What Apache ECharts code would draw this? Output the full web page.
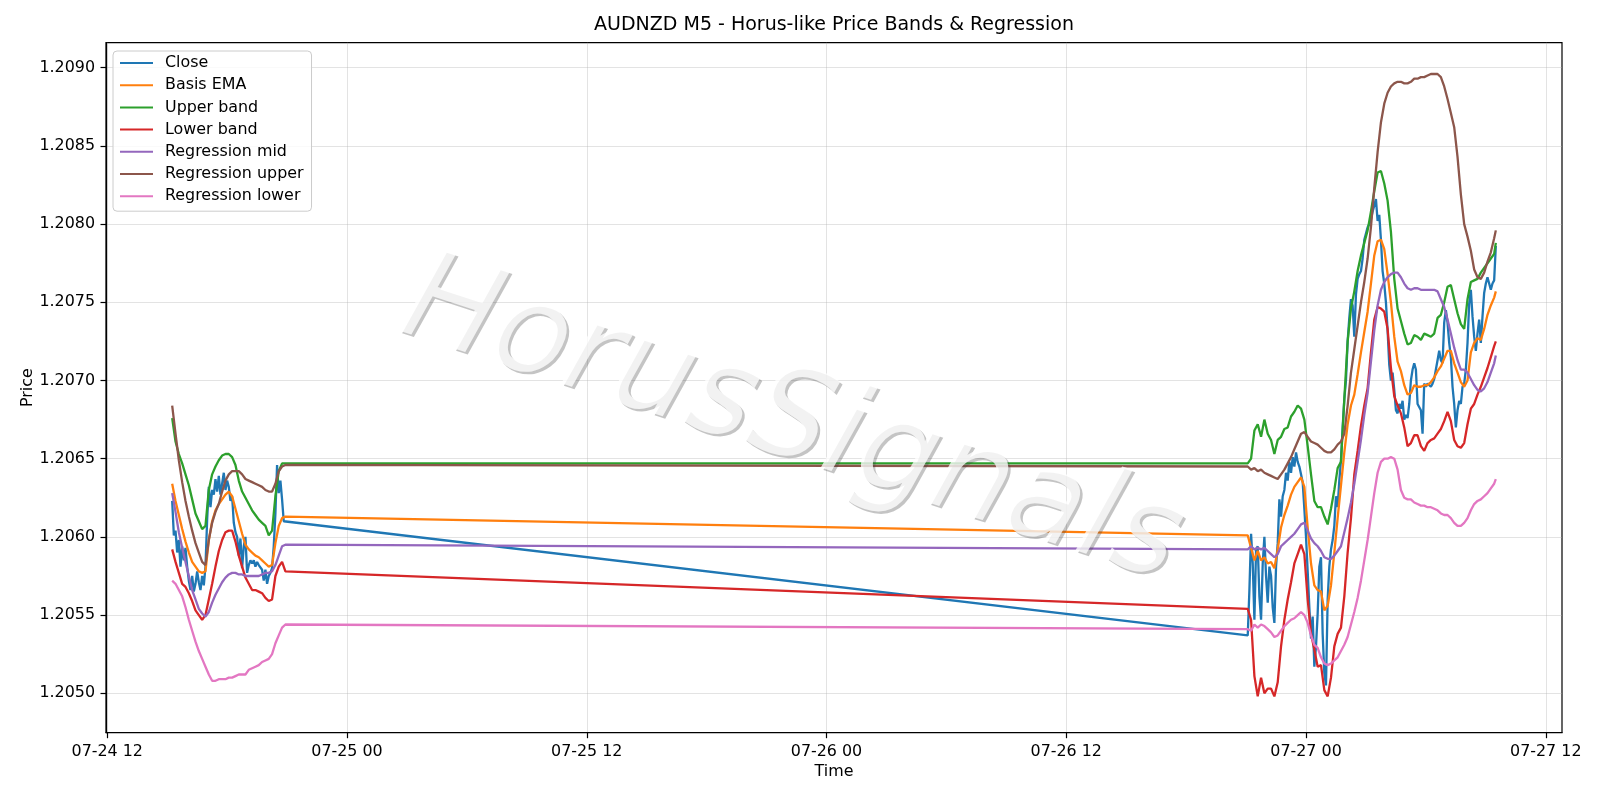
<!DOCTYPE html>
<html><head><meta charset="utf-8">
<script src="https://cdn.jsdelivr.net/npm/echarts@6/dist/echarts.min.js"></script>
<style>html,body{margin:0;padding:0;background:#fff}#c{width:1600px;height:800px}</style>
</head><body><div id="c"></div>
<script>
// ---------- data ----------
const seriesNames = ['Close','Basis EMA','Upper band','Lower band','Regression mid','Regression upper','Regression lower'];
const seriesColors = ['#1f77b4','#ff7f0e','#2ca02c','#d62728','#9467bd','#8c564b','#e377c2'];
const xTickLabels = ['07-24 12','07-25 00','07-25 12','07-26 00','07-26 12','07-27 00','07-27 12'];
const yTickValues = [1.2050,1.2055,1.2060,1.2065,1.2070,1.2075,1.2080,1.2085,1.2090];
const chartYear = 2020;
const friStart = '2020-07-24 15:15';   // Friday session, M5 bars
const sunStart = '2020-07-26 21:05';   // Sunday open, M5 bars

// Close, every 5 minutes
const friClose = [1.20623,1.20601,1.20604,1.20590,1.20598,1.20581,1.20594,1.20585,1.20593,1.20581,
 1.20572,1.20566,1.20575,1.20565,1.20570,1.20578,1.20571,1.20566,1.20575,1.20569,
 1.20581,1.20611,1.20632,1.20619,1.20630,1.20627,1.20637,1.20629,1.20639,1.20627,
 1.20634,1.20641,1.20630,1.20636,1.20632,1.20623,1.20626,1.20609,1.20603,1.20600,
 1.20588,1.20599,1.20580,1.20594,1.20600,1.20577,1.20582,1.20585,1.20583,1.20585,
 1.20581,1.20584,1.20582,1.20581,1.20579,1.20572,1.20579,1.20570,1.20575,1.20577,
 1.20580,1.20594,1.20615,1.20646,1.20628,1.20636,1.20624,1.20610,1.20609];
const sunClose = [1.20537,1.20566,1.20602,1.20583,1.20547,1.20592,1.20594,1.20562,1.20547,1.20583,
 1.20600,1.20575,1.20558,1.20581,1.20575,1.20555,1.20545,1.20581,1.20596,1.20624,
 1.20613,1.20626,1.20630,1.20641,1.20636,1.20648,1.20641,1.20651,1.20645,1.20654,
 1.20648,1.20645,1.20640,1.20635,1.20618,1.20600,1.20578,1.20555,1.20535,1.20549,
 1.20517,1.20530,1.20551,1.20581,1.20587,1.20538,1.20513,1.20505,1.20560,1.20581,
 1.20592,1.20598,1.20607,1.20626,1.20619,1.20636,1.20649,1.20670,1.20688,1.20700,
 1.20725,1.20740,1.20752,1.20748,1.20728,1.20755,1.20765,1.20768,1.20770,1.20778,
 1.20790,1.20794,1.20798,1.20800,1.20803,1.20808,1.20812,1.20816,1.20802,1.20806,
 1.20790,1.20770,1.20762,1.20750,1.20732,1.20710,1.20700,1.20705,1.20694,1.20681,
 1.20679,1.20685,1.20682,1.20687,1.20675,1.20678,1.20676,1.20685,1.20700,1.20707,
 1.20711,1.20707,1.20685,1.20686,1.20681,1.20666,1.20698,1.20696,1.20698,1.20697,
 1.20696,1.20698,1.20701,1.20707,1.20713,1.20719,1.20713,1.20711,1.20737,1.20745,
 1.20737,1.20724,1.20715,1.20696,1.20685,1.20670,1.20681,1.20687,1.20685,1.20696,
 1.20698,1.20707,1.20724,1.20749,1.20758,1.20741,1.20728,1.20719,1.20730,1.20739,
 1.20724,1.20741,1.20756,1.20762,1.20766,1.20762,1.20758,1.20762,1.20764,1.20786];

// Indicator lines, every 10 minutes (Sunday list ends with the 09:30 bar)
const friEma = [1.20634,1.20623,1.20614,1.20605,1.20597,1.20590,1.20584,1.20581,1.20578,1.20577,1.20578,1.20598,1.20610,1.20617,1.20621,1.20624,1.20627,1.20629,1.20626,1.20618,1.20610,1.20602,1.20595,1.20592,1.20590,1.20588,1.20587,1.20585,1.20583,1.20581,1.20582,1.20596,1.20607,1.20612,1.20613];
const friUpper = [1.20676,1.20661,1.20653,1.20647,1.20640,1.20633,1.20624,1.20615,1.20610,1.20605,1.20607,1.20630,1.20640,1.20645,1.20649,1.20652,1.20653,1.20653,1.20651,1.20646,1.20636,1.20629,1.20625,1.20621,1.20617,1.20614,1.20611,1.20609,1.20607,1.20601,1.20604,1.20626,1.20642,1.20647,1.20647];
const friLower = [1.20592,1.20584,1.20577,1.20570,1.20568,1.20564,1.20559,1.20553,1.20550,1.20547,1.20550,1.20560,1.20570,1.20581,1.20591,1.20598,1.20603,1.20604,1.20604,1.20597,1.20588,1.20581,1.20574,1.20570,1.20566,1.20566,1.20565,1.20564,1.20561,1.20559,1.20560,1.20575,1.20581,1.20584,1.20578];
const friRegMid = [1.20628,1.20616,1.20603,1.20593,1.20584,1.20575,1.20566,1.20560,1.20554,1.20551,1.20549,1.20552,1.20558,1.20563,1.20567,1.20571,1.20574,1.20576,1.20577,1.20577,1.20576,1.20576,1.20575,1.20575,1.20575,1.20575,1.20575,1.20576,1.20577,1.20577,1.20578,1.20582,1.20588,1.20594,1.20595];
const friRegUp = [1.20684,1.20666,1.20649,1.20635,1.20623,1.20613,1.20604,1.20596,1.20590,1.20584,1.20582,1.20598,1.20609,1.20616,1.20621,1.20629,1.20636,1.20640,1.20642,1.20642,1.20642,1.20640,1.20637,1.20636,1.20635,1.20634,1.20633,1.20632,1.20630,1.20629,1.20629,1.20634,1.20642,1.20645,1.20646];
const friRegLow = [1.20572,1.20570,1.20566,1.20562,1.20555,1.20547,1.20540,1.20533,1.20527,1.20522,1.20517,1.20512,1.20508,1.20508,1.20509,1.20509,1.20509,1.20510,1.20510,1.20511,1.20512,1.20512,1.20512,1.20515,1.20516,1.20517,1.20518,1.20520,1.20521,1.20522,1.20525,1.20532,1.20537,1.20542,1.20544];

const sunEma = [1.20601,1.20593,1.20585,1.20591,1.20585,1.20587,1.20583,1.20584,1.20580,1.20592,
 1.20606,1.20614,1.20620,1.20627,1.20632,1.20635,1.20638,1.20632,1.20606,1.20583,
 1.20569,1.20566,1.20565,1.20553,1.20556,1.20569,1.20590,1.20612,1.20633,1.20654,
 1.20672,1.20684,1.20691,1.20704,1.20718,1.20731,1.20744,1.20762,1.20780,1.20789,
 1.20790,1.20784,1.20768,1.20750,1.20728,1.20712,1.20706,1.20697,1.20691,1.20692,
 1.20697,1.20696,1.20696,1.20697,1.20697,1.20699,1.20702,1.20706,1.20709,1.20714,
 1.20719,1.20719,1.20711,1.20705,1.20699,1.20696,1.20700,1.20718,1.20724,1.20727,
 1.20726,1.20733,1.20742,1.20748,1.20753,1.20757];
const sunUpper = [1.20647,1.20650,1.20668,1.20672,1.20664,1.20675,1.20666,1.20662,1.20653,1.20662,
 1.20664,1.20669,1.20670,1.20677,1.20680,1.20684,1.20682,1.20675,1.20658,1.20640,
 1.20623,1.20619,1.20619,1.20613,1.20608,1.20618,1.20630,1.20644,1.20648,1.20688,
 1.20725,1.20746,1.20757,1.20770,1.20780,1.20788,1.20796,1.20808,1.20821,1.20833,
 1.20834,1.20826,1.20815,1.20795,1.20765,1.20746,1.20738,1.20730,1.20723,1.20724,
 1.20729,1.20728,1.20726,1.20730,1.20729,1.20728,1.20730,1.20740,1.20742,1.20750,
 1.20760,1.20761,1.20752,1.20743,1.20736,1.20733,1.20752,1.20763,1.20764,1.20765,
 1.20769,1.20772,1.20775,1.20778,1.20781,1.20788];
const sunLower = [1.20554,1.20547,1.20511,1.20498,1.20510,1.20500,1.20503,1.20503,1.20498,1.20507,
 1.20530,1.20547,1.20560,1.20571,1.20583,1.20589,1.20595,1.20589,1.20560,1.20538,
 1.20528,1.20517,1.20518,1.20502,1.20498,1.20510,1.20530,1.20538,1.20542,1.20562,
 1.20590,1.20612,1.20640,1.20655,1.20671,1.20684,1.20695,1.20718,1.20739,1.20747,
 1.20746,1.20744,1.20733,1.20708,1.20690,1.20684,1.20679,1.20670,1.20658,1.20660,
 1.20665,1.20665,1.20658,1.20655,1.20660,1.20662,1.20663,1.20666,1.20669,1.20674,
 1.20680,1.20674,1.20662,1.20658,1.20657,1.20660,1.20672,1.20682,1.20685,1.20691,
 1.20696,1.20702,1.20708,1.20715,1.20722,1.20725];
const sunRegMid = [1.20592,1.20594,1.20592,1.20593,1.20592,1.20593,1.20591,1.20589,1.20587,1.20589,
 1.20594,1.20596,1.20598,1.20600,1.20602,1.20605,1.20608,1.20609,1.20604,1.20599,
 1.20596,1.20594,1.20591,1.20587,1.20586,1.20586,1.20588,1.20591,1.20594,1.20603,
 1.20612,1.20622,1.20634,1.20648,1.20662,1.20678,1.20692,1.20712,1.20732,1.20748,
 1.20758,1.20763,1.20766,1.20768,1.20769,1.20769,1.20766,1.20762,1.20759,1.20758,
 1.20759,1.20759,1.20758,1.20758,1.20758,1.20758,1.20758,1.20757,1.20752,1.20747,
 1.20739,1.20730,1.20721,1.20713,1.20707,1.20707,1.20705,1.20701,1.20697,1.20694,
 1.20693,1.20695,1.20699,1.20705,1.20711,1.20716];
const sunRegUp = [1.20645,1.20643,1.20644,1.20642,1.20643,1.20641,1.20640,1.20639,1.20638,1.20637,
 1.20640,1.20643,1.20647,1.20651,1.20656,1.20661,1.20666,1.20667,1.20664,1.20661,
 1.20660,1.20659,1.20657,1.20655,1.20654,1.20654,1.20656,1.20659,1.20661,1.20666,
 1.20684,1.20705,1.20720,1.20735,1.20750,1.20763,1.20778,1.20798,1.20823,1.20846,
 1.20865,1.20877,1.20884,1.20888,1.20890,1.20891,1.20891,1.20890,1.20890,1.20891,
 1.20893,1.20893,1.20894,1.20894,1.20895,1.20896,1.20896,1.20896,1.20894,1.20888,
 1.20880,1.20871,1.20862,1.20843,1.20819,1.20800,1.20792,1.20783,1.20771,1.20766,
 1.20765,1.20769,1.20776,1.20782,1.20791,1.20796];
const sunRegLow = [1.20541,1.20540,1.20544,1.20542,1.20544,1.20543,1.20541,1.20539,1.20536,1.20537,
 1.20540,1.20543,1.20545,1.20547,1.20548,1.20550,1.20552,1.20550,1.20545,1.20537,
 1.20531,1.20529,1.20523,1.20519,1.20518,1.20519,1.20521,1.20523,1.20527,1.20531,
 1.20536,1.20544,1.20552,1.20561,1.20572,1.20585,1.20598,1.20613,1.20628,1.20641,
 1.20648,1.20650,1.20650,1.20651,1.20650,1.20643,1.20630,1.20625,1.20624,1.20624,
 1.20622,1.20621,1.20620,1.20620,1.20619,1.20619,1.20618,1.20617,1.20615,1.20614,
 1.20614,1.20612,1.20609,1.20607,1.20607,1.20609,1.20612,1.20617,1.20621,1.20623,
 1.20624,1.20626,1.20628,1.20631,1.20634,1.20637];

// ---------- helpers ----------
function ts(s){const [d,t]=s.split(' ');const [Y,M,D]=d.split('-').map(Number);const [h,m]=t.split(':').map(Number);return Date.UTC(Y,M-1,D,h,m);}
function tickTs(lbl){const [md,h]=lbl.split(' ');const [M,D]=md.split('-').map(Number);return Date.UTC(chartYear,M-1,D,Number(h));}
const MIN = 60000;
const xTickValues = xTickLabels.map(tickTs);
const friT0 = ts(friStart), sunT0 = ts(sunStart);
function closePts(fri, sun){
  const p=[]; fri.forEach((v,i)=>p.push([friT0+i*5*MIN,v])); sun.forEach((v,i)=>p.push([sunT0+i*5*MIN,v])); return p;
}
function smoothPts(fri, sun){
  const p=[]; fri.forEach((v,i)=>p.push([friT0+i*10*MIN,v]));
  sun.forEach((v,i)=>{const m=(i===sun.length-1)?(sunClose.length-1)*5:i*10; p.push([sunT0+m*MIN,v]);});
  return p;
}
const seriesData = [
  closePts(friClose, sunClose),
  smoothPts(friEma, sunEma),
  smoothPts(friUpper, sunUpper),
  smoothPts(friLower, sunLower),
  smoothPts(friRegMid, sunRegMid),
  smoothPts(friRegUp, sunRegUp),
  smoothPts(friRegLow, sunRegLow)
];
const lastT = sunT0 + (sunClose.length-1)*5*MIN;
const xMin = friT0 - (lastT - friT0)*0.05;
const xMax = lastT + (lastT - friT0)*0.05;
const yMin = 1.204748, yMax = 1.20916;

const FONT = 'DejaVu Sans';
const FS = 15.9;
const chart = echarts.init(document.getElementById('c'), null, {renderer:'canvas'});
const axisText = {color:'#000', fontSize:FS, fontFamily:FONT};
const gridLine = {color:'#b0b0b0', opacity:0.35, width:1};
chart.setOption({
  animation:false,
  backgroundColor:'#fff',
  textStyle:{fontFamily:FONT},
  title:{text:'AUDNZD M5 - Horus-like Price Bands & Regression', left:834, top:16, textAlign:'center', padding:0,
    textStyle:{fontFamily:FONT, fontSize:19, fontWeight:'normal', color:'#000'}},
  grid:{left:106, right:38, top:42.7, bottom:67.3, show:true, borderColor:'#000', borderWidth:1.2, backgroundColor:'transparent', containLabel:false, outerBoundsMode:'none'},
  legend:{orient:'vertical', left:113, top:51, padding:[4,8,7,7], itemGap:6.2, itemWidth:33, itemHeight:2, icon:'rect',
    backgroundColor:'rgba(255,255,255,0.8)', borderColor:'#cccccc', borderWidth:1, borderRadius:4,
    textStyle:{fontSize:FS, fontFamily:FONT, color:'#000', padding:[0,0,0,7]}, data:seriesNames, selectedMode:false},
  xAxis:{type:'value', min:xMin, max:xMax,
    name:'Time', nameLocation:'middle', nameGap:31, nameMoveOverlap:false, nameTextStyle:axisText,
    axisLine:{show:true, onZero:false, lineStyle:{color:'#000', width:1.2}},
    axisTick:{show:true, customValues:xTickValues, length:5.5, lineStyle:{color:'#000', width:1.2}},
    axisLabel:{customValues:xTickValues, margin:11, ...axisText, formatter:v=>{const i=xTickValues.indexOf(v);return i>=0?xTickLabels[i]:'';}},
    splitLine:{show:true, lineStyle:gridLine}},
  yAxis:{type:'value', min:yMin, max:yMax,
    name:'Price', nameLocation:'middle', nameGap:70, nameRotate:90, nameMoveOverlap:false, nameTextStyle:axisText,
    axisLine:{show:true, onZero:false, lineStyle:{color:'#000', width:1.2}},
    axisTick:{show:true, customValues:yTickValues, length:5.5, lineStyle:{color:'#000', width:1.2}},
    axisLabel:{customValues:yTickValues, margin:11, ...axisText, formatter:v=>v.toFixed(4)},
    splitLine:{show:true, lineStyle:gridLine}},
  series: seriesNames.map((n,i)=>({type:'line', name:n, data:seriesData[i], showSymbol:false, symbol:'none',
    silent:true, lineStyle:{width:2.3, color:seriesColors[i]}, itemStyle:{color:seriesColors[i]}, z:2+i*0.01})),
  graphic:[
    {type:'text', x:793.5, y:426.5, rotation:-18*Math.PI/180, z:100, silent:true,
     style:{text:'HorusSignals', font:'italic 124px "DejaVu Sans"', fill:'rgba(60,60,60,0.3)', align:'center', verticalAlign:'middle'}},
    {type:'text', x:791, y:424, rotation:-18*Math.PI/180, z:101, silent:true,
     style:{text:'HorusSignals', font:'italic 124px "DejaVu Sans"', fill:'rgba(255,255,255,0.78)', align:'center', verticalAlign:'middle'}}
  ]
});
</script></body></html>
